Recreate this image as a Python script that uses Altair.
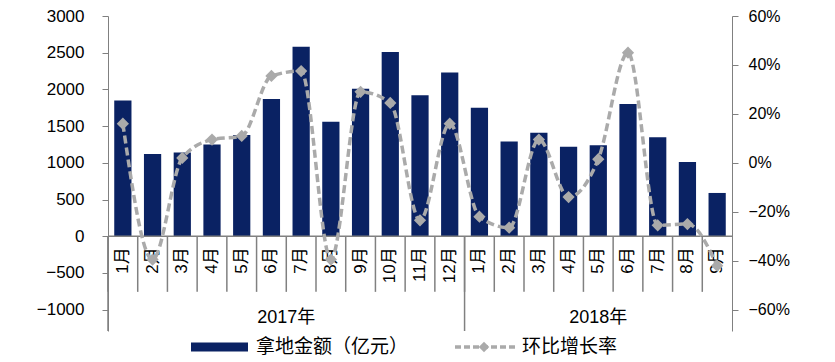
import altair as alt
import pandas as pd

# ---- data ----
years = ["2017年"] * 12 + ["2018年"] * 9
months = ["1月", "2月", "3月", "4月", "5月", "6月", "7月", "8月", "9月", "10月", "11月", "12月",
          "1月", "2月", "3月", "4月", "5月", "6月", "7月", "8月", "9月"]
amount = [1850, 1120, 1140, 1250, 1380, 1870, 2580, 1560, 2010, 2510, 1920, 2230,
          1750, 1290, 1410, 1220, 1240, 1800, 1350, 1010, 590]
growth_pct = [16, -39.5, 2, 9.5, 11, 35.5, 37.5, -39.5, 29, 24.5, -23.5, 16,
              -22, -26.5, 9.5, -14, 1.5, 45, -25.5, -25, -42]
left_ticks = [-1000, -500, 0, 500, 1000, 1500, 2000, 2500, 3000]
right_ticks = [-0.6, -0.4, -0.2, 0, 0.2, 0.4, 0.6]
legend_bar = "拿地金额（亿元）"
legend_line = "环比增长率"

keys = [y + m for y, m in zip(years, months)]
df = pd.DataFrame({
    "key": keys,
    "year": years,
    "month": months,
    "amount": amount,
    "growth": [g / 100 for g in growth_pct],
})

FONT = "Liberation Sans, Noto Sans CJK SC, sans-serif"
NAVY = "#0A2263"
GREY = "#AAAAAA"
AXIS = "#808080"

x_scale = alt.Scale(domain=keys, paddingInner=0, paddingOuter=0)
yl_scale = alt.Scale(domain=[-1290, 3000], nice=False, zero=False)
yr_scale = alt.Scale(domain=[-0.687, 0.6], nice=False, zero=False)

yl_axis = alt.Axis(values=left_ticks, format="d", title=None, grid=False,
                   tickSize=6, tickColor=AXIS, domainColor=AXIS,
                   labelPadding=18, labelFontSize=17, labelFont=FONT,
                   labelColor="black")
yr_axis = alt.Axis(values=right_ticks, format=".0%", orient="right", title=None,
                   grid=False, tickSize=6, tickColor=AXIS, domainColor=AXIS,
                   labelPadding=10, labelFontSize=16, labelFont=FONT,
                   labelColor="black")


def xk(bp=0.5):
    return alt.X("key:N", scale=x_scale, axis=None, bandPosition=bp)


def yl(v):
    return alt.YDatum(v, type="quantitative", scale=yl_scale, axis=yl_axis)


base = alt.Chart(df)

bars = base.mark_bar(color=NAVY, width=alt.RelativeBandSize(0.58)).encode(
    x=xk(),
    y=alt.Y("amount:Q", scale=yl_scale, axis=yl_axis),
)

zero_rule = alt.Chart(pd.DataFrame({"z": [0]})).mark_rule(
    color=AXIS, strokeWidth=1.5).encode(
    y=yl(0),
)

short_sep = base.mark_rule(color=AXIS, strokeWidth=1.5).encode(
    x=xk(0),
    y=yl(0),
    y2=alt.Y2Datum(-757),
)

year_sep = base.transform_filter(alt.datum.month == "1月").mark_rule(
    color=AXIS, strokeWidth=1.5).encode(
    x=xk(0),
    y=yl(0),
    y2=alt.Y2Datum(-1290),
)

month_text = base.mark_text(angle=270, align="right", baseline="middle",
                            fontSize=17, font=FONT, color="black").encode(
    x=xk(),
    y=yl(-150),
    text="month:N",
)

year17 = base.transform_filter(alt.datum.key == "2017年7月").mark_text(
    fontSize=18, font=FONT, color="black", baseline="middle").encode(
    x=xk(0),
    y=yl(-1108),
    text="year:N",
)

year18 = base.transform_filter(alt.datum.key == "2018年5月").mark_text(
    fontSize=18, font=FONT, color="black", baseline="middle").encode(
    x=xk(0.5),
    y=yl(-1108),
    text="year:N",
)

left = alt.layer(bars, zero_rule, short_sep, year_sep, month_text, year17, year18)

line = base.mark_line(color=GREY, strokeWidth=3.5, strokeDash=[8, 4],
                      interpolate="monotone").encode(
    x=xk(),
    y=alt.Y("growth:Q", scale=yr_scale, axis=yr_axis),
)
pts = base.mark_point(shape="diamond", filled=True, size=150, color=GREY,
                      opacity=1).encode(
    x=xk(),
    y=alt.Y("growth:Q", scale=yr_scale, axis=yr_axis),
)
right = alt.layer(line, pts)

one = alt.Chart(pd.DataFrame({"a": [0]}))
leg_rect = one.mark_rect(color=NAVY).encode(
    x=alt.value(83), x2=alt.value(140), y=alt.value(326.5), y2=alt.value(335.5))
leg_text1 = one.mark_text(align="left", baseline="middle", fontSize=19,
                          font=FONT, color="black").encode(
    x=alt.value(148), y=alt.value(331), text=alt.value(legend_bar))
leg_line = one.mark_rule(color=GREY, strokeWidth=3.5, strokeDash=[6, 3]).encode(
    x=alt.value(347), x2=alt.value(407), y=alt.value(331))
leg_pt = one.mark_point(shape="diamond", filled=True, size=110, color=GREY,
                        opacity=1).encode(x=alt.value(376), y=alt.value(331))
leg_text2 = one.mark_text(align="left", baseline="middle", fontSize=19,
                          font=FONT, color="black").encode(
    x=alt.value(414), y=alt.value(331), text=alt.value(legend_line))

chart = alt.layer(left, right, leg_rect, leg_text1, leg_line, leg_pt, leg_text2).resolve_scale(
    y="independent"
).properties(
    width=624,
    height=315,
    autosize=alt.AutoSizeParams(type="none"),
    padding={"left": 100, "top": 8, "right": 95, "bottom": 31},
    background="white",
).configure_view(stroke=None)

chart.save("out.html", embed_options={"renderer": "svg", "actions": False})
